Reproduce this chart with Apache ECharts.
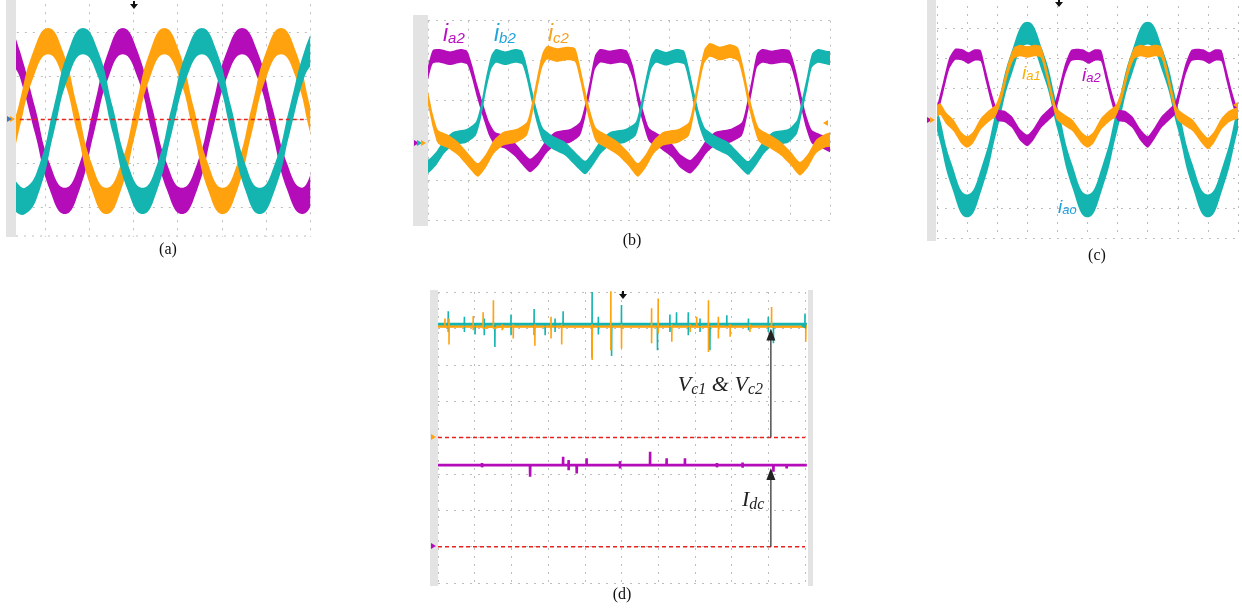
<!DOCTYPE html>
<html>
<head>
<meta charset="utf-8">
<script src="https://cdn.jsdelivr.net/npm/echarts@6/dist/echarts.min.js"></script>
<style>html,body{margin:0;padding:0;background:#fff}#chart{width:1242px;height:612px}</style>
</head>
<body>
<div id="chart"></div>
<script>
// ---------------- DATA (oscilloscope divisions) ----------------
// Panel (a): three-phase currents, [time div, level div]
const aMagenta = [[0.28,4.62],[0.43,4.27],[0.77,3.0],[1.11,1.69],[1.45,1.14],[1.78,1.69],[2.11,3.0],[2.44,4.27],[2.76,4.79],[3.09,4.27],[3.42,3.0],[3.76,1.69],[4.10,1.14],[4.44,1.69],[4.78,3.0],[5.12,4.27],[5.46,4.79],[5.80,4.27],[6.14,3.0],[6.48,1.69],[6.81,1.14],[7.1,1.6]];
const aOrange = [[0.28,2.5],[0.40,3.0],[0.74,4.27],[1.07,4.79],[1.40,4.27],[1.73,3.0],[2.06,1.69],[2.39,1.14],[2.72,1.69],[3.05,3.0],[3.38,4.27],[3.70,4.79],[4.03,4.27],[4.36,3.0],[4.69,1.69],[5.02,1.14],[5.35,1.69],[5.68,3.0],[6.01,4.27],[6.34,4.79],[6.67,4.27],[7.0,3.0],[7.1,2.6]];
const aCyan = [[0.28,1.3],[0.55,1.14],[0.88,1.69],[1.20,3.0],[1.53,4.27],[1.86,4.79],[2.20,4.27],[2.53,3.0],[2.87,1.69],[3.21,1.14],[3.54,1.69],[3.87,3.0],[4.21,4.27],[4.55,4.79],[4.88,4.27],[5.21,3.0],[5.53,1.69],[5.86,1.14],[6.20,1.69],[6.54,3.0],[6.87,4.27],[7.1,4.75]];
const aZeroLine = [[0.43,3.0],[6.88,3.0]];

// Panel (b): i_a2, i_b2, i_c2
const bMagenta = [[-0.2,2.9],[0,3.7],[0.12,4.1],[0.3,4.12],[0.55,4.06],[0.8,4.12],[0.97,4.08],[1.09,3.75],[1.22,3.25],[1.37,2.75],[1.52,2.3],[1.67,2.05],[1.92,1.97],[2.16,1.78],[2.36,1.55],[2.54,1.38],[2.74,1.55],[2.94,1.85],[3.16,2.05],[3.53,2.12],[3.78,2.3],[3.91,2.75],[4.03,3.35],[4.15,3.95],[4.28,4.12],[4.53,4.08],[4.78,4.12],[4.95,4.08],[5.10,3.7],[5.22,3.1],[5.35,2.6],[5.50,2.15],[5.77,1.98],[6.07,1.75],[6.27,1.5],[6.52,1.35],[6.72,1.55],[6.92,1.85],[7.14,2.05],[7.51,2.12],[7.81,2.3],[7.94,2.8],[8.06,3.4],[8.18,4.0],[8.31,4.12],[8.56,4.08],[8.81,4.12],[9.0,4.08],[9.15,3.6],[9.28,3.0],[9.40,2.5],[9.55,2.1],[9.80,1.98],[10.1,1.85]];
const bCyan = [[-0.2,1.5],[0,1.36],[0.2,1.55],[0.4,1.85],[0.62,2.05],[0.95,2.12],[1.19,2.3],[1.32,2.75],[1.44,3.4],[1.57,3.95],[1.69,4.12],[1.92,4.06],[2.16,4.12],[2.34,4.08],[2.46,3.7],[2.59,3.1],[2.71,2.6],[2.86,2.15],[3.11,1.95],[3.41,1.8],[3.66,1.55],[3.91,1.33],[4.10,1.55],[4.30,1.85],[4.53,2.05],[4.90,2.12],[5.17,2.3],[5.30,2.8],[5.42,3.4],[5.55,3.95],[5.67,4.12],[5.92,4.05],[6.17,4.12],[6.37,4.08],[6.49,3.65],[6.62,3.05],[6.74,2.55],[6.89,2.15],[7.16,1.95],[7.46,1.8],[7.71,1.55],[7.96,1.32],[8.16,1.55],[8.36,1.85],[8.58,2.05],[8.96,2.12],[9.18,2.35],[9.30,2.85],[9.43,3.45],[9.55,4.0],[9.70,4.12],[9.90,4.08],[10.1,4.05]];
const bOrange = [[-0.2,3.6],[0,3.05],[0.12,2.5],[0.25,2.1],[0.5,1.98],[0.75,1.8],[0.97,1.55],[1.24,1.27],[1.44,1.5],[1.64,1.85],[1.87,2.05],[2.19,2.12],[2.46,2.3],[2.59,2.8],[2.71,3.4],[2.84,4.0],[2.96,4.2],[3.21,4.14],[3.46,4.18],[3.66,4.14],[3.78,3.7],[3.91,3.1],[4.03,2.6],[4.18,2.15],[4.45,1.98],[4.73,1.8],[4.98,1.55],[5.22,1.27],[5.42,1.5],[5.62,1.85],[5.85,2.05],[6.22,2.12],[6.49,2.3],[6.62,2.85],[6.74,3.5],[6.87,4.1],[7.01,4.27],[7.26,4.18],[7.51,4.24],[7.71,4.16],[7.84,3.7],[7.96,3.1],[8.08,2.6],[8.23,2.15],[8.51,1.98],[8.78,1.8],[9.03,1.55],[9.25,1.3],[9.45,1.5],[9.65,1.85],[9.88,2.0],[10.1,2.05]];

// Panel (c): i_a1, i_a2, i_ao
const cCyan = [[-0.15,4.3],[0.0,3.95],[0.5,2.05],[1.0,1.07],[1.5,2.05],[2.0,4.0],[2.5,5.9],[3.0,6.83],[3.5,5.9],[4.0,4.0],[4.5,2.05],[5.0,1.07],[5.5,2.05],[6.0,4.0],[6.5,5.9],[7.0,6.83],[7.5,5.9],[8.0,4.0],[8.5,2.05],[9.0,1.07],[9.5,2.05],[10.0,4.0],[10.2,4.8]];
const cMagenta = [[-0.1,3.9],[0.0,4.2],[0.2,5.0],[0.4,5.8],[0.6,6.12],[0.85,6.1],[1.05,6.0],[1.25,6.1],[1.45,6.08],[1.6,5.5],[1.8,4.7],[2.0,4.1],[2.25,4.05],[2.5,3.85],[2.75,3.45],[3.0,3.25],[3.2,3.45],[3.45,3.85],[3.7,4.1],[3.9,4.3],[4.05,4.8],[4.25,5.6],[4.45,6.08],[4.65,6.12],[4.85,6.1],[5.05,6.0],[5.25,6.1],[5.45,6.08],[5.6,5.5],[5.8,4.7],[6.0,4.1],[6.25,4.05],[6.5,3.85],[6.75,3.45],[7.0,3.2],[7.2,3.45],[7.45,3.85],[7.7,4.1],[7.9,4.3],[8.05,4.8],[8.25,5.6],[8.45,6.08],[8.65,6.12],[8.85,6.1],[9.05,6.0],[9.25,6.1],[9.45,6.08],[9.6,5.5],[9.8,4.7],[10.0,4.1],[10.2,4.0]];
const cOrange = [[-0.1,4.1],[0.1,4.3],[0.3,4.0],[0.55,3.75],[0.8,3.35],[1.0,3.2],[1.2,3.35],[1.45,3.8],[1.7,4.05],[1.95,4.25],[2.15,4.8],[2.35,5.6],[2.55,6.15],[2.75,6.25],[3.0,6.2],[3.25,6.25],[3.45,6.2],[3.62,5.6],[3.8,4.8],[3.97,4.15],[4.2,3.95],[4.5,3.75],[4.8,3.35],[5.0,3.2],[5.2,3.35],[5.45,3.8],[5.7,4.05],[5.95,4.25],[6.15,4.8],[6.35,5.6],[6.55,6.15],[6.75,6.25],[7.0,6.2],[7.25,6.25],[7.45,6.2],[7.62,5.6],[7.8,4.8],[7.97,4.15],[8.2,3.95],[8.5,3.75],[8.8,3.35],[9.0,3.15],[9.2,3.35],[9.45,3.8],[9.7,4.05],[9.95,4.15],[10.2,4.2]];

// Panel (d): Vc1 & Vc2 (cyan / orange), Idc (magenta); spikes = [x, top, bottom]
const dVc1Level = 7.11, dVc2Level = 7.05, dIdcLevel = 3.24;
const dVc1Spikes = [[0.28,7.47,6.9],[0.72,7.32,6.9],[1.01,7.11,6.83],[1.26,7.27,6.81],[1.55,7.11,6.49],[1.99,7.38,6.81],[2.62,7.53,6.81],[2.92,7.11,6.81],[3.19,7.27,6.9],[3.41,7.47,7.04],[4.2,8.0,6.19],[4.37,7.32,6.83],[4.73,7.11,6.24],[5.0,7.64,7.0],[5.98,7.11,6.4],[6.32,7.38,6.9],[6.5,7.44,7.11],[6.82,7.44,6.81],[7.14,7.27,6.9],[7.41,7.11,6.4],[7.87,7.36,7.04],[8.46,7.27,6.95],[9.0,7.32,6.9],[9.14,7.11,6.59],[10.0,7.41,7.11]];
const dVc2Spikes = [[0.19,7.27,7.04],[0.3,7.27,6.56],[0.96,7.34,6.95],[1.23,7.44,7.0],[1.51,7.77,7.0],[1.75,7.11,6.95],[2.05,7.11,6.72],[2.64,7.11,6.52],[3.08,7.32,6.72],[3.37,7.11,6.56],[4.2,7.11,6.13],[4.71,8.05,6.4],[5.0,7.11,6.45],[5.82,7.55,6.59],[6.0,7.82,6.86],[6.37,7.11,6.63],[6.87,7.11,6.9],[7.05,7.32,7.04],[7.37,7.77,6.35],[7.64,7.32,6.72],[7.96,7.11,6.77],[8.5,7.11,6.9],[9.09,7.59,7.04],[10.02,7.11,6.63]];
const dIdcSpikes = [[1.2,3.3,3.18],[2.51,3.24,2.92],[3.41,3.47,3.24],[3.56,3.38,3.1],[3.78,3.24,3.01],[4.05,3.43,3.24],[4.96,3.35,3.15],[5.78,3.61,3.24],[6.23,3.43,3.24],[6.73,3.43,3.24],[7.6,3.3,3.18],[8.3,3.31,3.17],[9.14,3.24,3.06],[9.5,3.24,3.15]];
const dRefLines = [4.0, 1.0];

// ---------------- STYLE ----------------
const GRID_C = '#bdbdbd', MAG = '#b30cb8', CYAN = '#14b5b0', ORANGE = '#ffa20d', RED = '#e8231f';
const STRIP = '#e3e3e3';

const mctx = document.createElement('canvas').getContext('2d');
function tw(t, font) { mctx.font = font; return mctx.measureText(t).width; }

function mkAxis(gridIndex, min, max, showMin, showMax) {
  return { gridIndex, type: 'value', min, max, interval: 1, silent: true,
    axisLine: { show: false }, axisTick: { show: false }, axisLabel: { show: false },
    splitLine: { show: true, showMinLine: showMin, showMaxLine: showMax,
      lineStyle: { color: GRID_C, width: 1, type: [2, 6] } } };
}

function band(gi, pts, half, color, smooth) {
  return {
    type: 'custom', xAxisIndex: gi, yAxisIndex: gi, data: pts, silent: true,
    dimensions: ['x', 'y'], encode: { x: 0, y: 1 },
    renderItem: function (params, api) {
      if (params.dataIndex !== 0) return null;
      const up = pts.map(p => api.coord([p[0], p[1] + half]));
      const lo = pts.map(p => api.coord([p[0], p[1] - half])).reverse();
      const cs = params.coordSys;
      return { type: 'polygon', shape: { points: up.concat(lo), smooth: smooth },
        style: { fill: color },
        clipPath: { type: 'rect', shape: { x: cs.x, y: cs.y, width: cs.width, height: cs.height } } };
    }
  };
}

function spikeLine(level, spikes) {
  const pts = [[-0.05, level]];
  spikes.slice().sort((a, b) => a[0] - b[0]).forEach(s => {
    pts.push([s[0] - 0.004, level], [s[0], s[1]], [s[0], s[2]], [s[0] + 0.004, level]);
  });
  pts.push([10.05, level]);
  return pts;
}

function line(gi, data, color, width, type, z) {
  return { type: 'line', xAxisIndex: gi, yAxisIndex: gi, data, showSymbol: false, symbol: 'none',
    silent: true, z: z || 2, lineStyle: { color, width, type: type || 'solid' } };
}

function arrow(gi, x, y0, y1) {
  return { type: 'line', xAxisIndex: gi, yAxisIndex: gi, silent: true, z: 6,
    data: [{ value: [x, y0], symbol: 'none' }, { value: [x, y1], symbol: 'triangle', symbolSize: [9, 12] }],
    showSymbol: true, symbol: 'none', lineStyle: { color: '#333', width: 1.3 }, itemStyle: { color: '#222' } };
}

function subLabel(x, baseline, parts, color, alignRight) {
  let total = 0;
  parts.forEach(p => total += tw(p[0], p[1]));
  let cx = alignRight ? x - total : x;
  const els = [];
  parts.forEach(p => {
    const size = parseFloat(p[1].match(/(\d+(\.\d+)?)px/)[1]);
    els.push({ type: 'text', x: cx, y: baseline + p[2] - 0.3 * size, z: 120,
      style: { text: p[0], font: p[1], fill: color, align: 'left', verticalAlign: 'middle' } });
    cx += tw(p[0], p[1]);
  });
  return els;
}

function caption(t, x, y) {
  return { type: 'text', x, y, z: 120, style: { text: t, font: '16px "Liberation Serif"', fill: '#111', align: 'center', verticalAlign: 'middle' } };
}
function trig(cx, y0) {
  return { type: 'polygon', z: 110, shape: { points: [[cx - 1, y0], [cx + 1, y0], [cx + 1, y0 + 3], [cx + 4, y0 + 3], [cx, y0 + 8], [cx - 4, y0 + 3], [cx - 1, y0 + 3]] }, style: { fill: '#111' } };
}
function tri(x, y, dir, color) {
  const pts = dir > 0 ? [[x, y - 3], [x + 5, y], [x, y + 3]] : [[x + 5, y - 3], [x, y], [x + 5, y + 3]];
  return { type: 'polygon', z: 110, shape: { points: pts }, style: { fill: color } };
}
function rect(x, y, w, h, fill, z) {
  return { type: 'rect', z: z || 100, shape: { x, y, width: w, height: h }, style: { fill } };
}

const SANS_I = s => 'italic ' + s + 'px "Liberation Sans"';
const SERIF_I = s => 'italic ' + s + 'px "Liberation Serif"';

const graphics = [
  rect(0, 0, 6, 240, '#fff'), rect(6, 0, 10, 237, STRIP), rect(0, 237, 316, 16, '#fff'),
  { type: 'line', z: 101, shape: { x1: 16, y1: 236, x2: 310, y2: 236 }, style: { stroke: GRID_C, lineDash: [2, 6], lineWidth: 1 } },
  trig(134, 1), tri(10, 119, 1, ORANGE), tri(7, 119, 1, '#3a78c8'),
  rect(413, 15, 15, 211, STRIP), tri(414, 143, 1, MAG), tri(417, 143, 1, CYAN), tri(421, 143, 1, ORANGE),
  tri(823, 123, -1, ORANGE), tri(825, 143, -1, ORANGE),
  rect(927, 0, 9, 241, STRIP), trig(1059, -1), tri(927, 120, 1, MAG), tri(930, 120, 1, ORANGE),
  tri(1233, 105, -1, ORANGE),
  rect(430, 290, 8, 296, STRIP), rect(808, 290, 5, 296, STRIP), trig(623, 291),
  tri(431, 437, 1, ORANGE), tri(431, 546, 1, MAG), tri(801, 326, -1, CYAN),
  caption('(a)', 168, 250), caption('(b)', 632, 241), caption('(c)', 1097, 256), caption('(d)', 622, 595)
].concat(
  subLabel(443, 42, [['i', SANS_I(23), 0], ['a2', SANS_I(15), 1]], '#b80fc0'),
  subLabel(494, 42, [['i', SANS_I(23), 0], ['b2', SANS_I(15), 1]], '#1ea3de'),
  subLabel(548, 42, [['i', SANS_I(23), 0], ['c2', SANS_I(15), 1]], '#f7a21f'),
  subLabel(1022, 79, [['i', SANS_I(19), 0], ['a1', SANS_I(13), 1]], '#f5b30a'),
  subLabel(1082, 81, [['i', SANS_I(19), 0], ['a2', SANS_I(13), 1]], '#b80fc0'),
  subLabel(1058, 213, [['i', SANS_I(19), 0], ['ao', SANS_I(13), 1]], '#1e9fe0'),
  subLabel(763, 392, [['V', SERIF_I(22), 0], ['c1', SERIF_I(16), 3], [' & ', SERIF_I(22), 0], ['V', SERIF_I(22), 0], ['c2', SERIF_I(16), 3]], '#222', true),
  subLabel(742, 507, [['I', SERIF_I(22), 0], ['dc', SERIF_I(16), 3]], '#222')
);

const dArrowX = 9.07;

const option = {
  animation: false,
  backgroundColor: '#fff',
  grid: [
    { left: 0.8, top: -11.75, width: 309.4, height: 262.5, outerBoundsMode: 'none' },
    { left: 428, top: 20.7, width: 402, height: 200, outerBoundsMode: 'none' },
    { left: 937, top: -2, width: 301, height: 240, outerBoundsMode: 'none' },
    { left: 438, top: 292, width: 367, height: 291, outerBoundsMode: 'none' }
  ],
  xAxis: [mkAxis(0, 0, 7, false, true), mkAxis(1, 0, 10, true, true), mkAxis(2, 0, 10, true, true), mkAxis(3, 0, 10, true, true)],
  yAxis: [mkAxis(0, 0, 6, false, false), mkAxis(1, 0, 5, true, true), mkAxis(2, 0, 8, true, true), mkAxis(3, 0, 8, true, true)],
  series: [
    band(0, aMagenta, 0.3, MAG, 0.5),
    band(0, aOrange, 0.3, ORANGE, 0.5),
    band(0, aCyan, 0.3, CYAN, 0.5),
    line(0, aZeroLine, RED, 1.5, [4, 3], 5),

    band(1, bMagenta, 0.17, MAG, 0.2),
    band(1, bCyan, 0.17, CYAN, 0.2),
    band(1, bOrange, 0.17, ORANGE, 0.2),

    band(2, cCyan, 0.38, CYAN, 0.5),
    band(2, cMagenta, 0.19, MAG, 0.2),
    band(2, cOrange, 0.19, ORANGE, 0.2),

    line(3, [[0, dRefLines[0]], [10, dRefLines[0]]], RED, 1.5, [4, 3], 3),
    line(3, [[0, dRefLines[1]], [10, dRefLines[1]]], RED, 1.5, [4, 3], 3),
    line(3, [[-0.05, dVc1Level], [10.05, dVc1Level]], CYAN, 3, 'solid', 4),
    line(3, [[-0.05, dVc2Level], [10.05, dVc2Level]], ORANGE, 2.2, 'solid', 4),
    line(3, spikeLine(dVc1Level, dVc1Spikes), CYAN, 1.6, 'solid', 4),
    line(3, spikeLine(dVc2Level, dVc2Spikes), ORANGE, 1.6, 'solid', 4),
    line(3, spikeLine(dIdcLevel, dIdcSpikes), MAG, 2.6, 'solid', 4),
    arrow(3, dArrowX, dRefLines[0], 6.83),
    arrow(3, dArrowX, dRefLines[1], 3.0)
  ],
  graphic: { elements: graphics }
};

const chart = echarts.init(document.getElementById('chart'), null, { renderer: 'canvas' });
chart.setOption(option);
</script>
</body>
</html>
